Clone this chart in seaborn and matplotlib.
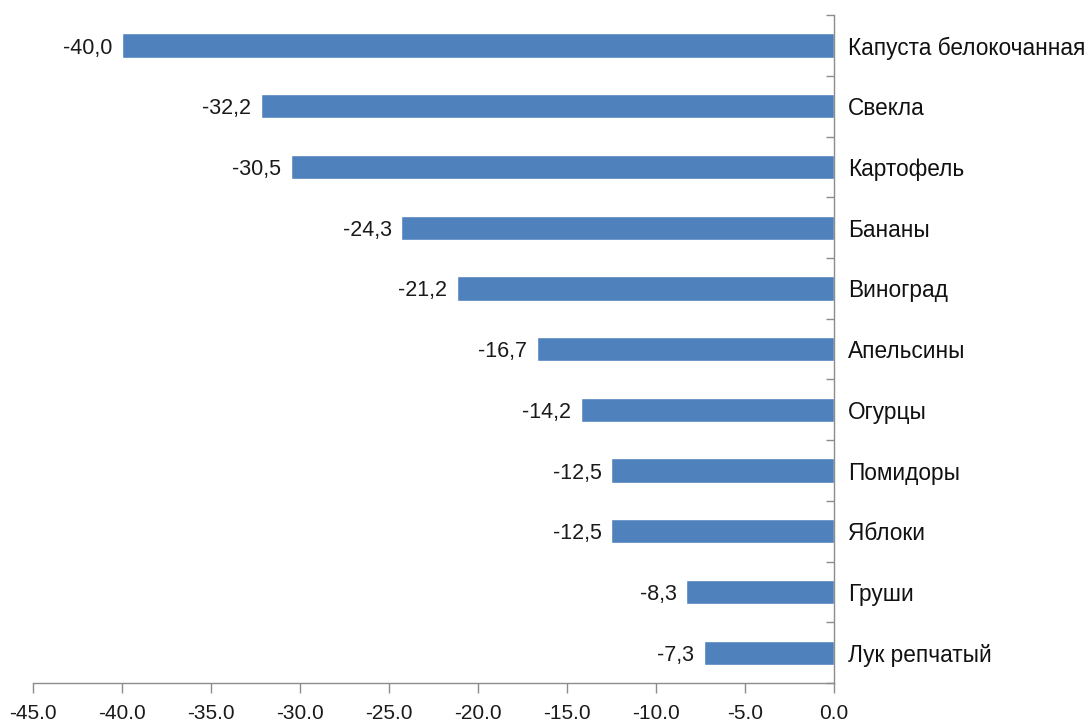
import numpy as np
import pandas as pd
import seaborn as sns
import matplotlib.pyplot as plt
from matplotlib.ticker import FixedLocator, FuncFormatter

products = ["Капуста белокочанная", "Свекла", "Картофель", "Бананы", "Виноград",
            "Апельсины", "Огурцы", "Помидоры", "Яблоки", "Груши", "Лук репчатый"]
changes = [-40.0, -32.2, -30.5, -24.3, -21.2, -16.7, -14.2, -12.5, -12.5, -8.3, -7.3]
x_ticks = [-45, -40, -35, -30, -25, -20, -15, -10, -5, 0]

sns.set_theme(style="white")
plt.rcParams["font.family"] = ["Liberation Sans", "DejaVu Sans"]

df = pd.DataFrame({"product": products, "change": changes})

fig = plt.figure(figsize=(10.89, 7.22), dpi=100)
ax = fig.add_axes([0.0303, 0.054, 0.7355, 0.925])
sns.barplot(data=df, x="change", y="product", orient="h", color="#4F81BD",
            width=0.4, saturation=1, ax=ax)

ax.set_xlim(-45, 0)
ax.set_ylim(len(products) - 0.5, -0.5)
ax.set_xlabel("")
ax.set_ylabel("")

# spines: bottom axis and the zero line on the right
for side in ["top", "left"]:
    ax.spines[side].set_visible(False)
for side in ["bottom", "right"]:
    ax.spines[side].set_color("#8c8c8c")
    ax.spines[side].set_linewidth(1)

ax.xaxis.set_major_locator(FixedLocator(x_ticks))
ax.xaxis.set_major_formatter(FuncFormatter(lambda v, p: f"{v:.1f}"))
ax.tick_params(axis="x", direction="out", length=7, width=1, color="#8c8c8c",
               labelsize=15, pad=8, bottom=True, labelcolor="#1a1a1a")

# category labels on the right, tick marks between categories
ax.yaxis.tick_right()
ax.tick_params(axis="y", which="major", length=0, pad=10, labelsize=16.3,
               left=False, right=False, labelcolor="#111111")
ax.yaxis.set_minor_locator(FixedLocator(np.arange(-0.5, len(products), 1.0)))
ax.tick_params(axis="y", which="minor", direction="in", length=6, width=1,
               color="#8c8c8c", right=True, left=False)

for i, v in enumerate(changes):
    ax.text(v - 0.55, i, f"{v:.1f}".replace(".", ","), ha="right",
            va="center_baseline", fontsize=15.5, color="#1a1a1a")

fig.savefig("out.png", dpi=100)
